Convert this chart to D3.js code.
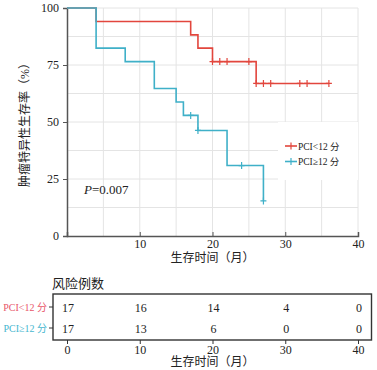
<!DOCTYPE html>
<html>
<head>
<meta charset="utf-8">
<script src="https://cdn.jsdelivr.net/npm/d3@7"></script>
<style>
  body { margin: 0; background: #fff; }
  svg text { font-family: "Liberation Serif", "Noto Sans CJK SC", serif; }
</style>
</head>
<body>
<div id="chart"></div>
<script>
// Kaplan-Meier step data
const groupNames = ["PCI<12 分", "PCI≥12 分"];
const lowTimes = [0, 4, 17, 18, 20, 26, 36];
const lowSurv = [100, 94.1, 88.2, 82.4, 76.5, 66.9, 66.9];
const lowCensor = [20, 21, 22, 25, 26, 27, 28, 32, 33, 36];
const highTimes = [0, 4, 8, 12, 15, 16, 18, 22, 27];
const highSurv = [100, 82.4, 76.5, 64.7, 58.8, 52.9, 46.3, 30.9, 15.4];
const highCensor = [17, 18, 24, 27];
const xTicks = [0, 10, 20, 30, 40];
const yTicks = [0, 25, 50, 75, 100];
const riskLow = [17, 16, 14, 4, 0];
const riskHigh = [17, 13, 6, 0, 0];
const pText = "=0.007";

const colors = ["#e2463d", "#3fb0c8"];
const labelColors = ["#e8566a", "#45b6cf"];

const svg = d3.select("#chart").append("svg")
  .attr("width", 377).attr("height", 370);

const x = d3.scaleLinear().domain([0, 40]).range([67, 358]);
const y = d3.scaleLinear().domain([0, 100]).range([236, 8]);

// grid
const grid = svg.append("g");
grid.selectAll(".vg").data(d3.range(5, 41, 5)).join("line")
  .attr("x1", d => x(d)).attr("x2", d => x(d))
  .attr("y1", y(0)).attr("y2", y(100))
  .attr("stroke", "#e4e4e4").attr("stroke-width", 1);
grid.selectAll(".hg").data(d3.range(12.5, 101, 12.5)).join("line")
  .attr("x1", x(0)).attr("x2", x(40))
  .attr("y1", d => y(d)).attr("y2", d => y(d))
  .attr("stroke", "#e4e4e4").attr("stroke-width", 1);

// legend background hides the grid
svg.append("rect").attr("x", 278).attr("y", 122).attr("width", 80).attr("height", 58)
  .attr("fill", "#fff");

// axes
const yAxis = svg.append("g").attr("transform", `translate(${x(0)},0)`)
  .call(d3.axisLeft(y).tickValues(yTicks).tickSize(4).tickPadding(4));
const xAxis = svg.append("g").attr("transform", `translate(0,${y(0)})`)
  .call(d3.axisBottom(x).tickValues(xTicks.slice(1)).tickSize(-4).tickPadding(3));
[xAxis, yAxis].forEach(g => {
  g.select(".domain").attr("stroke", "#555").attr("stroke-width", 1.5);
  g.selectAll(".tick line").attr("stroke", "#555");
  g.selectAll("text").attr("font-size", 12).attr("fill", "#222")
    .attr("font-family", "Liberation Serif");
});

// curves
const line = d3.line().x(d => x(d[0])).y(d => y(d[1])).curve(d3.curveStepAfter);
const series = [
  { t: lowTimes, s: lowSurv, c: lowCensor },
  { t: highTimes, s: highSurv, c: highCensor }
];
function survAt(sr, t) {
  let v = sr.s[0];
  sr.t.forEach((tt, i) => { if (tt <= t) v = sr.s[i]; });
  return v;
}
series.forEach((sr, k) => {
  const pts = sr.t.map((t, i) => [t, sr.s[i]]);
  svg.append("path").datum(pts)
    .attr("d", line).attr("fill", "none")
    .attr("stroke", colors[k]).attr("stroke-width", 1.6);
  svg.append("g").selectAll("path").data(sr.c).join("path")
    .attr("d", d => {
      const cx = x(d), cy = y(survAt(sr, d));
      return `M${cx - 3},${cy}H${cx + 3}M${cx},${cy - 3.5}V${cy + 3.5}`;
    })
    .attr("stroke", colors[k]).attr("stroke-width", 1.2);
});

// legend
groupNames.forEach((name, k) => {
  const ly = 146 + k * 15.5;
  svg.append("line").attr("x1", 285).attr("x2", 297).attr("y1", ly).attr("y2", ly)
    .attr("stroke", colors[k]).attr("stroke-width", 1.6);
  svg.append("path").attr("d", `M291,${ly - 3.5}V${ly + 3.5}`)
    .attr("stroke", colors[k]).attr("stroke-width", 1.2);
  svg.append("text").attr("x", 298).attr("y", ly + 3.5)
    .attr("font-size", 9.5).attr("fill", "#222").text(name);
});

// p value
const pt = svg.append("text").attr("x", 84).attr("y", 194).attr("font-size", 13).attr("fill", "#222");
pt.append("tspan").attr("font-style", "italic").text("P");
pt.append("tspan").text(pText);

// axis titles
svg.append("text").attr("x", x(20)).attr("y", 262).attr("text-anchor", "middle")
  .attr("font-size", 12).attr("fill", "#222").attr("font-family", "Noto Sans CJK SC")
  .text("生存时间（月）");
svg.append("text").attr("transform", `translate(29,122) rotate(-90)`)
  .attr("text-anchor", "middle").attr("font-size", 12).attr("fill", "#222")
  .attr("font-family", "Noto Sans CJK SC")
  .text("肿瘤特异性生存率（%）");

// risk table
svg.append("text").attr("x", 52).attr("y", 288).attr("font-size", 13).attr("fill", "#222")
  .attr("font-family", "Noto Sans CJK SC").text("风险例数");
svg.append("rect").attr("x", 53).attr("y", 294).attr("width", 318.5).attr("height", 46)
  .attr("fill", "none").attr("stroke", "#333").attr("stroke-width", 1.4);
const rowY = [307, 328];
[riskLow, riskHigh].forEach((row, k) => {
  svg.append("g").selectAll("text").data(row).join("text")
    .attr("x", (d, i) => x(xTicks[i]) + 1).attr("y", rowY[k] + 4.5)
    .attr("text-anchor", "middle").attr("font-size", 12).attr("fill", "#222")
    .text(d => d);
  svg.append("line").attr("x1", 49).attr("x2", 53).attr("y1", rowY[k]).attr("y2", rowY[k])
    .attr("stroke", "#333");
  svg.append("text").attr("x", 47).attr("y", rowY[k] + 3.5).attr("text-anchor", "end")
    .attr("font-size", 10).attr("fill", labelColors[k]).text(groupNames[k]);
});
const bAxis = svg.append("g").attr("transform", "translate(0,340)")
  .call(d3.axisBottom(x).tickValues(xTicks).tickSize(4).tickPadding(1));
bAxis.select(".domain").remove();
bAxis.selectAll(".tick line").attr("stroke", "#333");
bAxis.selectAll("text").attr("font-size", 12).attr("fill", "#222")
  .attr("font-family", "Liberation Serif");
svg.append("text").attr("x", x(20)).attr("y", 366).attr("text-anchor", "middle")
  .attr("font-size", 12).attr("fill", "#222").attr("font-family", "Noto Sans CJK SC")
  .text("生存时间（月）");
</script>
</body>
</html>
